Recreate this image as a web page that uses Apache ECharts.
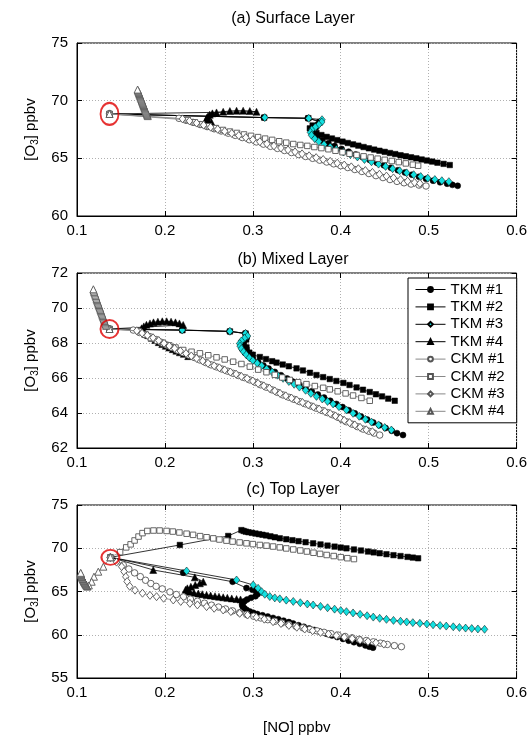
<!DOCTYPE html>
<html>
<head>
<meta charset="utf-8">
<script src="https://cdn.jsdelivr.net/npm/echarts@6.0.0/dist/echarts.min.js"></script>
<style>html,body{margin:0;padding:0;background:#fff}#main{width:530px;height:752px}</style>
</head>
<body>
<div id="main"></div>
<script>
// ---- data ([NO] ppbv, [O3] ppbv) ----
var seriesNames = ['TKM #1','TKM #2','TKM #3','TKM #4','CKM #1','CKM #2','CKM #3','CKM #4'];
var panelTitles = ['(a) Surface Layer','(b) Mixed Layer','(c) Top Layer'];
var xTicks = [0.1,0.2,0.3,0.4,0.5,0.6];
var yRanges = [[60,75,5],[62,72,2],[55,75,5]];

// initial point (red circle) of every panel
var startA = [0.137,68.85];
var startB = [0.137,68.8];
var startC = [0.138,68.95];

// (a) surface layer
var tkm1A = [[0.3125,68.54],[0.3625,68.47],[0.377,68.2],[0.374,67.95],[0.372,67.7],[0.368,67.4],[0.369,67.1],[0.373,66.82],[0.379,66.55],[0.386,66.3],[0.393,66.07],[0.401,65.82],[0.409,65.58],[0.417,65.34],[0.425,65.1],[0.433,64.86],[0.441,64.62],[0.449,64.4],[0.457,64.18],[0.465,63.97],[0.473,63.77],[0.481,63.58],[0.489,63.4],[0.497,63.22],[0.505,63.06],[0.513,62.92],[0.521,62.8],[0.527,62.7],[0.533,62.62]];
var tkm2A = [[0.313,68.53],[0.3632,68.48],[0.376,68.15],[0.368,67.85],[0.3648,67.6],[0.367,67.4],[0.3724,67.2],[0.378,67.02],[0.384,66.86],[0.39,66.72],[0.396,66.58],[0.402,66.45],[0.408,66.33],[0.414,66.21],[0.42,66.1],[0.426,65.98],[0.432,65.87],[0.438,65.76],[0.444,65.66],[0.45,65.56],[0.456,65.46],[0.462,65.37],[0.468,65.27],[0.474,65.18],[0.48,65.09],[0.486,65.0],[0.492,64.9],[0.498,64.81],[0.504,64.72],[0.51,64.62],[0.517,64.52],[0.524,64.42]];
var tkm3A = [[0.3136,68.53],[0.3636,68.47],[0.3787,68.35],[0.3784,68.15],[0.375,67.92],[0.371,67.7],[0.367,67.48],[0.3655,67.25],[0.3667,67.0],[0.3705,66.7],[0.375,66.45],[0.381,66.2],[0.388,65.98],[0.395,65.78],[0.403,65.55],[0.411,65.33],[0.419,65.12],[0.427,64.9],[0.435,64.7],[0.443,64.5],[0.451,64.3],[0.459,64.1],[0.467,63.92],[0.475,63.74],[0.483,63.58],[0.491,63.42],[0.499,63.28],[0.507,63.16],[0.515,63.06],[0.523,62.98]];
var tkm4A = [[0.3042,69.04],[0.2966,69.1],[0.289,69.13],[0.2815,69.13],[0.2739,69.1],[0.2663,69.04],[0.2587,68.98],[0.254,68.9],[0.251,68.78],[0.249,68.65],[0.2478,68.52],[0.2474,68.4],[0.248,68.28],[0.25,68.18],[0.253,68.12]];
var ckm1A = [[0.216,68.47],[0.224,68.3],[0.232,68.12],[0.24,67.93],[0.248,67.75],[0.256,67.56],[0.264,67.37],[0.272,67.18],[0.28,66.99],[0.288,66.8],[0.296,66.61],[0.304,66.42],[0.312,66.23],[0.32,66.04],[0.328,65.86],[0.336,65.68],[0.344,65.5],[0.352,65.33],[0.36,65.16],[0.368,65.0],[0.376,64.84],[0.384,64.68],[0.392,64.52],[0.4,64.36],[0.408,64.2],[0.416,64.03],[0.424,63.86],[0.432,63.68],[0.44,63.5],[0.448,63.33],[0.456,63.16],[0.464,63.0],[0.472,62.88],[0.48,62.77],[0.489,62.68],[0.497,62.6]];
var ckm2A = [[0.226,68.32],[0.234,68.12],[0.242,67.94],[0.25,67.78],[0.258,67.62],[0.266,67.46],[0.274,67.32],[0.282,67.2],[0.29,67.07],[0.298,66.95],[0.306,66.84],[0.314,66.71],[0.322,66.6],[0.33,66.48],[0.338,66.36],[0.346,66.24],[0.354,66.16],[0.362,66.08],[0.37,65.98],[0.378,65.89],[0.386,65.79],[0.394,65.66],[0.402,65.53],[0.41,65.4],[0.418,65.29],[0.426,65.17],[0.434,65.07],[0.442,64.97],[0.45,64.87],[0.458,64.77],[0.466,64.67],[0.474,64.56],[0.482,64.45],[0.488,64.36]];
var ckm3A = [[0.22,68.42],[0.228,68.24],[0.236,68.06],[0.244,67.88],[0.252,67.7],[0.26,67.52],[0.268,67.34],[0.276,67.16],[0.284,66.98],[0.292,66.8],[0.3,66.62],[0.308,66.44],[0.316,66.26],[0.324,66.08],[0.332,65.9],[0.34,65.73],[0.348,65.56],[0.356,65.39],[0.364,65.22],[0.372,65.06],[0.38,64.9],[0.388,64.74],[0.396,64.58],[0.404,64.42],[0.412,64.26],[0.42,64.1],[0.428,63.94],[0.436,63.78],[0.444,63.62],[0.452,63.46],[0.46,63.3],[0.468,63.15],[0.476,63.02],[0.484,62.9],[0.49,62.82]];
var ckm4A = [[0.1805,68.66],[0.1801,68.74],[0.1797,68.82],[0.1793,68.9],[0.1789,68.98],[0.1785,69.06],[0.1781,69.14],[0.1777,69.22],[0.1773,69.3],[0.1769,69.38],[0.1765,69.46],[0.1761,69.54],[0.1757,69.62],[0.1753,69.7],[0.1749,69.78],[0.1745,69.86],[0.1741,69.94],[0.1737,70.02],[0.1733,70.1],[0.1729,70.18],[0.1725,70.26],[0.1721,70.34],[0.1717,70.42],[0.1713,70.5],[0.1709,70.58],[0.1705,70.66],[0.1701,70.74],[0.1697,70.82],[0.1693,70.9],[0.1689,70.96]];

// (b) mixed layer
var tkm1B = [[0.2195,68.74],[0.2735,68.66],[0.2915,68.55],[0.293,68.3],[0.289,68.05],[0.287,67.85],[0.288,67.65],[0.291,67.45],[0.295,67.26],[0.3,67.08],[0.306,66.9],[0.312,66.72],[0.318,66.54],[0.325,66.35],[0.332,66.16],[0.339,65.97],[0.346,65.78],[0.353,65.6],[0.36,65.42],[0.367,65.24],[0.374,65.06],[0.381,64.88],[0.388,64.7],[0.395,64.52],[0.402,64.34],[0.409,64.16],[0.416,63.98],[0.423,63.8],[0.43,63.63],[0.437,63.46],[0.444,63.3],[0.451,63.14],[0.458,62.98],[0.464,62.85],[0.4708,62.74]];
var tkm2B = [[0.22,68.73],[0.274,68.66],[0.2918,68.54],[0.2925,68.2],[0.29,67.95],[0.2928,67.75],[0.2928,67.6],[0.296,67.45],[0.3,67.33],[0.308,67.2],[0.315,67.08],[0.322,66.96],[0.327,66.88],[0.334,66.77],[0.341,66.67],[0.3497,66.55],[0.357,66.43],[0.365,66.3],[0.3724,66.17],[0.38,66.05],[0.3875,65.94],[0.395,65.83],[0.403,65.72],[0.41,65.6],[0.418,65.46],[0.4253,65.33],[0.433,65.2],[0.44,65.07],[0.447,64.95],[0.454,64.82],[0.4614,64.7]];
var tkm3B = [[0.2197,68.74],[0.2739,68.67],[0.2917,68.55],[0.294,68.4],[0.2905,68.27],[0.287,68.12],[0.285,67.97],[0.2855,67.82],[0.287,67.67],[0.2895,67.5],[0.2925,67.33],[0.296,67.16],[0.3,67.0],[0.305,66.85],[0.31,66.7],[0.3156,66.52],[0.322,66.34],[0.328,66.16],[0.3344,65.98],[0.341,65.8],[0.347,65.64],[0.353,65.48],[0.36,65.3],[0.366,65.12],[0.3724,64.95],[0.379,64.8],[0.385,64.66],[0.3913,64.52],[0.398,64.36],[0.4065,64.17],[0.414,63.98],[0.421,63.81],[0.428,63.64],[0.435,63.48],[0.443,63.32],[0.45,63.17],[0.4576,63.03]];
var tkm4B = [[0.2208,69.03],[0.2165,69.12],[0.212,69.18],[0.207,69.22],[0.202,69.24],[0.197,69.24],[0.192,69.22],[0.187,69.18],[0.183,69.12],[0.179,69.04],[0.176,68.95],[0.1735,68.84],[0.174,68.72],[0.177,68.6],[0.181,68.45],[0.185,68.3],[0.189,68.17],[0.193,68.05],[0.197,67.94],[0.201,67.84],[0.205,67.74],[0.209,67.65],[0.213,67.56],[0.217,67.47],[0.2215,67.38],[0.2265,67.25]];
var ckm1B = [[0.164,68.74],[0.171,68.6],[0.177,68.47],[0.183,68.36],[0.19,68.2],[0.196,68.04],[0.202,67.89],[0.208,67.74],[0.2145,67.59],[0.2208,67.45],[0.227,67.31],[0.2335,67.17],[0.2398,67.03],[0.2465,66.88],[0.2525,66.75],[0.259,66.63],[0.265,66.51],[0.2715,66.39],[0.2776,66.27],[0.284,66.14],[0.2905,66.02],[0.2966,65.89],[0.303,65.75],[0.309,65.61],[0.3156,65.47],[0.322,65.32],[0.328,65.18],[0.3344,65.03],[0.341,64.9],[0.347,64.78],[0.3534,64.65],[0.36,64.52],[0.366,64.4],[0.3724,64.27],[0.379,64.14],[0.385,64.02],[0.3913,63.89],[0.397,63.75],[0.4015,63.62],[0.4065,63.5],[0.413,63.36],[0.419,63.22],[0.4255,63.08],[0.432,62.96],[0.438,62.85],[0.4443,62.74]];
var ckm2B = [[0.17,68.68],[0.177,68.47],[0.184,68.28],[0.191,68.12],[0.198,67.98],[0.205,67.86],[0.212,67.74],[0.2208,67.6],[0.2303,67.5],[0.2398,67.41],[0.2493,67.3],[0.2587,67.18],[0.268,67.06],[0.2776,66.93],[0.287,66.8],[0.2966,66.65],[0.3061,66.48],[0.3155,66.33],[0.325,66.18],[0.3335,66.03],[0.342,65.89],[0.3515,65.76],[0.361,65.65],[0.3705,65.54],[0.38,65.44],[0.3875,65.35],[0.3965,65.24],[0.4055,65.12],[0.414,65.0],[0.4235,64.86],[0.433,64.7]];
var ckm3B = [[0.168,68.7],[0.174,68.56],[0.18,68.44],[0.1865,68.3],[0.193,68.14],[0.199,67.98],[0.205,67.83],[0.211,67.69],[0.2175,67.55],[0.224,67.4],[0.23,67.26],[0.236,67.12],[0.243,66.97],[0.249,66.84],[0.256,66.7],[0.262,66.58],[0.268,66.46],[0.2745,66.34],[0.281,66.22],[0.287,66.09],[0.2935,65.97],[0.3,65.83],[0.306,65.69],[0.3125,65.55],[0.319,65.41],[0.325,65.26],[0.331,65.12],[0.3375,64.98],[0.344,64.85],[0.35,64.73],[0.3565,64.6],[0.363,64.47],[0.369,64.35],[0.3755,64.22],[0.382,64.09],[0.388,63.97],[0.394,63.83],[0.3995,63.7],[0.404,63.58],[0.41,63.45],[0.416,63.32],[0.422,63.18],[0.429,63.04],[0.436,62.93]];
var ckm4B = [[0.1332,68.98],[0.1328,69.05],[0.1323,69.12],[0.1318,69.19],[0.1313,69.26],[0.1308,69.33],[0.1303,69.4],[0.1298,69.47],[0.1293,69.54],[0.1288,69.61],[0.1283,69.68],[0.1278,69.75],[0.1273,69.82],[0.1268,69.89],[0.1263,69.96],[0.1258,70.03],[0.1253,70.1],[0.1248,70.17],[0.1243,70.24],[0.1238,70.31],[0.1233,70.38],[0.1228,70.45],[0.1223,70.52],[0.1218,70.6],[0.1213,70.68],[0.1207,70.76],[0.1201,70.84],[0.1195,70.92],[0.119,71.0],[0.1186,71.07]];

// (c) top layer
var tkm1C = [[0.2208,67.17],[0.277,66.13],[0.2928,65.4],[0.2995,65.2],[0.304,64.95],[0.3055,64.7],[0.303,64.45],[0.298,64.27],[0.2935,64.08],[0.2905,63.88],[0.2885,63.67],[0.2878,63.46],[0.2885,63.25],[0.2905,63.05],[0.293,62.86],[0.2965,62.69],[0.3005,62.54],[0.305,62.4],[0.311,62.25],[0.317,62.1],[0.323,61.95],[0.329,61.8],[0.335,61.63],[0.341,61.46],[0.3458,61.3],[0.352,61.1],[0.358,60.92],[0.364,60.73],[0.37,60.55],[0.376,60.37],[0.3837,60.12],[0.39,59.92],[0.396,59.73],[0.4026,59.52],[0.409,59.32],[0.415,59.14],[0.4216,58.95],[0.428,58.77],[0.4325,58.62],[0.4367,58.5]];
var tkm2C = [[0.217,70.38],[0.272,71.42],[0.287,72.1],[0.2895,72.0],[0.292,71.92],[0.295,71.85],[0.299,71.78],[0.303,71.7],[0.307,71.63],[0.311,71.56],[0.315,71.48],[0.32,71.38],[0.325,71.27],[0.3307,71.15],[0.338,71.04],[0.345,70.93],[0.352,70.82],[0.36,70.7],[0.3686,70.57],[0.377,70.44],[0.385,70.31],[0.393,70.19],[0.4,70.08],[0.4065,69.99],[0.415,69.86],[0.423,69.74],[0.431,69.62],[0.4375,69.52],[0.4443,69.42],[0.452,69.31],[0.46,69.2],[0.468,69.1],[0.476,69.0],[0.482,68.92],[0.488,68.84]];
var tkm3C = [[0.2247,67.37],[0.2815,66.33],[0.3004,65.75],[0.306,65.37],[0.31,64.98],[0.3136,64.68],[0.3193,64.42],[0.325,64.26],[0.3307,64.15],[0.338,64.0],[0.346,63.85],[0.354,63.7],[0.362,63.55],[0.3686,63.44],[0.377,63.28],[0.385,63.12],[0.393,62.96],[0.4,62.8],[0.4065,62.67],[0.414,62.52],[0.422,62.36],[0.43,62.2],[0.437,62.04],[0.4443,61.9],[0.452,61.78],[0.46,61.66],[0.468,61.56],[0.475,61.48],[0.482,61.4],[0.49,61.32],[0.498,61.24],[0.505,61.15],[0.513,61.07],[0.52,61.0],[0.528,60.92],[0.535,60.84],[0.542,60.77],[0.549,60.72],[0.556,60.67],[0.5636,60.63]];
var tkm4C = [[0.1867,67.49],[0.234,66.64],[0.2436,66.13],[0.2398,65.95],[0.2345,65.75],[0.2295,65.55],[0.2255,65.37],[0.2235,65.2],[0.226,65.05],[0.2284,64.96],[0.233,64.86],[0.238,64.77],[0.2425,64.69],[0.2474,64.6],[0.252,64.53],[0.257,64.46],[0.2615,64.4],[0.2663,64.33],[0.271,64.27],[0.276,64.2],[0.2815,64.13],[0.286,64.08]];
var ckm1C = [[0.1526,68.06],[0.159,67.6],[0.1655,67.15],[0.172,66.72],[0.178,66.3],[0.184,65.92],[0.19,65.6],[0.197,65.3],[0.2057,64.95],[0.213,64.65],[0.221,64.38],[0.229,64.12],[0.237,63.88],[0.245,63.65],[0.253,63.42],[0.261,63.2],[0.269,62.98],[0.277,62.76],[0.285,62.55],[0.293,62.34],[0.301,62.14],[0.309,61.94],[0.317,61.74],[0.325,61.55],[0.333,61.36],[0.341,61.17],[0.349,60.98],[0.357,60.8],[0.365,60.62],[0.373,60.45],[0.381,60.28],[0.389,60.12],[0.397,59.96],[0.405,59.8],[0.413,59.64],[0.421,59.48],[0.429,59.33],[0.437,59.18],[0.445,59.03],[0.453,58.88],[0.461,58.74],[0.469,58.62]];
var ckm2C = [[0.149,69.55],[0.156,70.1],[0.161,70.45],[0.1655,70.9],[0.17,71.35],[0.1745,71.75],[0.18,72.0],[0.187,72.05],[0.194,72.05],[0.2019,72.0],[0.209,71.93],[0.2165,71.82],[0.2247,71.68],[0.232,71.55],[0.24,71.4],[0.2474,71.27],[0.255,71.14],[0.262,71.01],[0.27,70.88],[0.277,70.77],[0.285,70.67],[0.2928,70.57],[0.3,70.48],[0.308,70.38],[0.3156,70.3],[0.323,70.2],[0.3307,70.1],[0.338,69.98],[0.346,69.86],[0.354,69.74],[0.3615,69.62],[0.369,69.48],[0.3765,69.35],[0.384,69.22],[0.392,69.1],[0.4,68.97],[0.4075,68.85],[0.415,68.75]];
var ckm3C = [[0.145,68.4],[0.1508,67.87],[0.1535,67.3],[0.1555,66.7],[0.157,66.15],[0.16,65.6],[0.166,65.15],[0.1745,64.8],[0.183,64.55],[0.1905,64.4],[0.1985,64.22],[0.2095,64.02],[0.218,63.85],[0.2284,63.63],[0.237,63.45],[0.2474,63.25],[0.256,63.06],[0.2663,62.86],[0.275,62.68],[0.285,62.48],[0.294,62.28],[0.304,62.02],[0.313,61.8],[0.323,61.51],[0.332,61.3],[0.341,61.08],[0.35,60.87],[0.359,60.66],[0.368,60.46],[0.377,60.27],[0.386,60.08],[0.395,59.9],[0.404,59.72],[0.413,59.55],[0.422,59.38],[0.431,59.22],[0.44,59.07],[0.449,58.92]];
var ckm4C = [[0.13,67.87],[0.1242,67.29],[0.1193,66.71],[0.1167,66.13],[0.1135,65.7],[0.1118,65.56],[0.1112,65.64],[0.1106,65.72],[0.1101,65.8],[0.1096,65.88],[0.1091,65.96],[0.1086,66.04],[0.1082,66.12],[0.1078,66.2],[0.1074,66.28],[0.107,66.36],[0.1066,66.44],[0.1062,66.52],[0.1058,66.6],[0.1055,66.68],[0.1052,66.76],[0.1049,66.84],[0.1047,66.92],[0.1045,67.0],[0.1043,67.08],[0.1042,67.16]];

var panels = [
	{start:startA, sets:[tkm1A,tkm2A,tkm3A,tkm4A,ckm1A,ckm2A,ckm3A,ckm4A], ring:[18,22]},
	{start:startB, sets:[tkm1B,tkm2B,tkm3B,tkm4B,ckm1B,ckm2B,ckm3B,ckm4B], ring:[18,18]},
	{start:startC, sets:[tkm1C,tkm2C,tkm3C,tkm4C,ckm1C,ckm2C,ckm3C,ckm4C], ring:[18,15]}
];

var FONT = 'Liberation Sans, Arial, Helvetica, sans-serif';
var gridTops = [43,273,505];
var gridH = [173,175,173];

// marker look per series
var looks = [
	{symbol:'circle', size:6, fill:'#000', edge:'#000', line:'#000'},
	{symbol:'rect', size:5.5, fill:'#000', edge:'#000', line:'#000'},
	{symbol:'diamond', size:[6.5,8], fill:'#14e0e0', edge:'#000', line:'#000'},
	{symbol:'triangle', size:7, fill:'#000', edge:'#000', line:'#000'},
	{symbol:'circle', size:6.5, fill:'#fff', edge:'#555', line:'#888'},
	{symbol:'rect', size:5.5, fill:'#fff', edge:'#555', line:'#888'},
	{symbol:'diamond', size:[6.5,8], fill:'#fff', edge:'#555', line:'#888'},
	{symbol:'triangle', size:7, fill:'#fff', edge:'#555', line:'#888'}
];

function makeSeries(){
	var out=[];
	for(var p=0;p<panels.length;p++){
		var pn=panels[p];
		for(var i=0;i<seriesNames.length;i++){
			var lk=looks[i];
			out.push({
				name:seriesNames[i],
				type:'line',
				xAxisIndex:p,
				yAxisIndex:p,
				data:[pn.start].concat(pn.sets[i]),
				symbol:lk.symbol,
				symbolSize:lk.size,
				showAllSymbol:true,
				clip:false,
				lineStyle:{color:lk.line,width:0.8},
				itemStyle:{color:lk.fill,borderColor:lk.edge,borderWidth:lk.fill=='#fff'?0.9:0.5},
				emphasis:{disabled:true},
				z:2+i
			});
		}
		// red ring round the initial point
		out.push({
			name:'start',
			type:'scatter',
			xAxisIndex:p,
			yAxisIndex:p,
			data:[pn.start],
			symbol:'circle',
			symbolSize:pn.ring,
			itemStyle:{color:'rgba(0,0,0,0)',borderColor:'#e00000',borderWidth:2},
			silent:true,
			z:20
		});
	}
	return out;
}

function makeAxes(){
	var xs=[],ys=[],grids=[];
	for(var p=0;p<3;p++){
		grids.push({left:77,width:440,top:gridTops[p],height:gridH[p],show:true,borderColor:'#000',borderWidth:1,backgroundColor:'#fff'});
		var r=yRanges[p];
		xs.push({
			type:'value',gridIndex:p,min:xTicks[0],max:xTicks[xTicks.length-1],interval:0.1,
			axisLine:{lineStyle:{color:'#000',width:1}},
			axisTick:{inside:true,length:5,lineStyle:{color:'#000'}},
			axisLabel:{color:'#000',fontSize:15,fontFamily:FONT,margin:7,formatter:function(v){return v.toFixed(1);}},
			splitLine:{show:true,lineStyle:{color:'#b0b0b0',type:[1,2],width:1}},
			name:p==2?'[NO] ppbv':'',
			nameLocation:'middle',nameGap:42,
			nameTextStyle:{color:'#000',fontSize:15,fontFamily:FONT}
		});
		ys.push({
			type:'value',gridIndex:p,min:r[0],max:r[1],interval:r[2],
			axisLine:{lineStyle:{color:'#000',width:1}},
			axisTick:{inside:true,length:5,lineStyle:{color:'#000'}},
			axisLabel:{color:'#000',fontSize:15,fontFamily:FONT,margin:9},
			splitLine:{show:true,lineStyle:{color:'#b0b0b0',type:[1,2],width:1}},
			name:'{a|[O}{b|3}{a|] ppbv}',
			nameLocation:'middle',nameRotate:90,nameGap:35,
			nameTextStyle:{color:'#000',fontFamily:FONT,rich:{
				a:{fontSize:15,fontFamily:FONT,color:'#000',lineHeight:16,verticalAlign:'top'},
				b:{fontSize:10,fontFamily:FONT,color:'#000',lineHeight:17,verticalAlign:'bottom'}
			}}
		});
	}
	// top / right axes only for the inward ticks of the box
	for(var q=0;q<3;q++){
		var rr=yRanges[q];
		xs.push({type:'value',gridIndex:q,position:'top',min:0.1,max:0.6,interval:0.1,
			axisLine:{show:false},axisTick:{inside:true,length:5,lineStyle:{color:'#000'}},
			axisLabel:{show:false},splitLine:{show:false}});
		ys.push({type:'value',gridIndex:q,position:'right',min:rr[0],max:rr[1],interval:rr[2],
			axisLine:{show:false},axisTick:{inside:true,length:5,lineStyle:{color:'#000'}},
			axisLabel:{show:false},splitLine:{show:false}});
	}
	return {x:xs,y:ys,g:grids};
}

var myChart = echarts.init(document.getElementById('main'),null,{renderer:'canvas'});
var ax = makeAxes();
var titleTops = [11,252,482];
var titles = [];
for(var t=0;t<3;t++){
	titles.push({text:panelTitles[t],left:293,top:titleTops[t],textAlign:'center',padding:0,
		textStyle:{fontSize:16,fontWeight:'normal',color:'#000',fontFamily:FONT}});
}

option = {
	animation:false,
	backgroundColor:'#fff',
	title:titles,
	legend:{
		data:seriesNames,
		orient:'vertical',
		left:408,
		top:278,
		padding:[4,12,4,7],
		itemWidth:30,
		itemHeight:6,
		itemGap:2.4,
		selectedMode:false,
		backgroundColor:'#fff',
		borderColor:'#000',
		borderWidth:1,
		borderRadius:0,
		lineStyle:{width:1},
		textStyle:{fontSize:15,color:'#000',fontFamily:FONT,lineHeight:14}
	},
	grid:ax.g,
	xAxis:ax.x,
	yAxis:ax.y,
	series:makeSeries()
};
myChart.setOption(option);
</script>
</body>
</html>
